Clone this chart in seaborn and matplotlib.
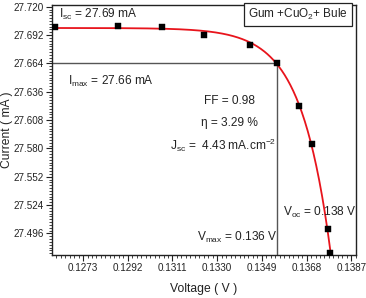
import numpy as np
import pandas as pd
import matplotlib
matplotlib.use("Agg")
import matplotlib.pyplot as plt
from matplotlib.ticker import AutoMinorLocator, FixedLocator
import seaborn as sns

# ---- data ----
voltage = [0.12610, 0.12877, 0.13067, 0.13244, 0.13440, 0.13553, 0.13648, 0.13702, 0.13770, 0.13781]
current = [27.7005, 27.7008, 27.6998, 27.6925, 27.6826, 27.6645, 27.6215, 27.5845, 27.5000, 27.4762]
x_ticks = [0.1273, 0.1292, 0.1311, 0.1330, 0.1349, 0.1368, 0.1387]
y_ticks = [27.496, 27.524, 27.552, 27.580, 27.608, 27.636, 27.664, 27.692, 27.720]
v_max = 0.13553
i_max = 27.6645
label_text = "Gum +CuO$_2$+ Bule"

sns.set_theme(style="ticks")
plt.rcParams['font.family'] = ['Liberation Sans', 'DejaVu Sans']
plt.rcParams['mathtext.fontset'] = 'custom'
plt.rcParams['mathtext.rm'] = 'Liberation Sans'
plt.rcParams['mathtext.it'] = 'Liberation Sans'

df = pd.DataFrame({"V": voltage, "I": current})

# diode-type fit I = c - A*exp((V - v0)/Vt), least squares with grid search on Vt
V = np.array(voltage); I = np.array(current)
v0 = V.max()
best = None
for vt in np.linspace(0.0002, 0.005, 500):
    X = np.column_stack([np.ones_like(V), -np.exp((V - v0) / vt)])
    coef, *_ = np.linalg.lstsq(X, I, rcond=None)
    r = np.sum((X @ coef - I) ** 2)
    if best is None or r < best[0]:
        best = (r, vt, coef)
_, vt, coef = best
vf = np.linspace(0.1259, 0.1381, 400)
fit = pd.DataFrame({"V": vf, "I": coef[0] - coef[1] * np.exp((vf - v0) / vt)})

fig = plt.figure(figsize=(3.66, 2.98), dpi=100)
ax = fig.add_axes([52/366, 1-255/298, (356-52)/366, (255-5)/298])

ax.plot([0.1259, v_max], [i_max, i_max], color="#555555", lw=1.0, zorder=1)
ax.plot([v_max, v_max], [27.47, i_max], color="#555555", lw=1.0, zorder=1)

sns.lineplot(data=fit, x="V", y="I", color="#e8141c", lw=1.3, ax=ax, zorder=2)
sns.scatterplot(data=df, x="V", y="I", marker="s", s=14, color="black",
                edgecolor="black", linewidth=0.3, ax=ax, zorder=3)

ax.set_xlim(0.12598, 0.13890)
ax.set_ylim(27.4747, 27.7218)
ax.xaxis.set_major_locator(FixedLocator(x_ticks))
ax.yaxis.set_major_locator(FixedLocator(y_ticks))
ax.set_xticklabels([f"{t:.4f}" for t in x_ticks])
ax.set_yticklabels([f"{t:.3f}" for t in y_ticks])
ax.xaxis.set_minor_locator(AutoMinorLocator(10))
ax.yaxis.set_minor_locator(AutoMinorLocator(10))
ax.tick_params(which="major", direction="out", length=4, width=0.8, labelsize=7.1,
               color="#222222", labelcolor="#222222", pad=2)
ax.tick_params(which="minor", direction="out", length=2, width=0.6, color="#222222")
for s in ax.spines.values():
    s.set_visible(True)
    s.set_linewidth(1.0)
    s.set_color("#222222")

def fx(px):
    return (px - 52) / 304
def fy(py):
    return (255 - py) / 250

ax.set_xlabel("Voltage ( V )", fontsize=8.7, labelpad=7, color="#222222")
ax.set_ylabel("Current ( mA )", fontsize=8.7, color="#222222")
ax.yaxis.set_label_coords(fx(13), 0.5)

tk = dict(transform=ax.transAxes, fontsize=8.6, color="#222222", va="center")
ax.text(fx(59), fy(14), "I$_{\\rm sc}$ = 27.69 mA", ha="left", **tk)
ax.text(fx(68), fy(81), "I$_{\\rm max}$ = 27.66 mA", ha="left", **tk)
ax.text(fx(229), fy(101), "FF = 0.98", ha="center", **tk)
ax.text(fx(229), fy(123), "\u03b7 = 3.29 %", ha="center", **tk)
ax.text(fx(170), fy(145), "J$_{\\rm sc}$ =  4.43 mA.cm$^{-2}$", ha="left", **tk)
ax.text(fx(283), fy(212), "V$_{\\rm oc}$ = 0.138 V", ha="left", **tk)
ax.text(fx(197), fy(237), "V$_{\\rm max}$ = 0.136 V", ha="left", **tk)
ax.text(fx(298), fy(14.5), label_text, ha="center", transform=ax.transAxes,
        fontsize=8.5, color="#222222", va="center",
        bbox=dict(boxstyle="square,pad=0.35", fc="white", ec="#222222", lw=0.9))

fig.savefig("out.png", dpi=100)
